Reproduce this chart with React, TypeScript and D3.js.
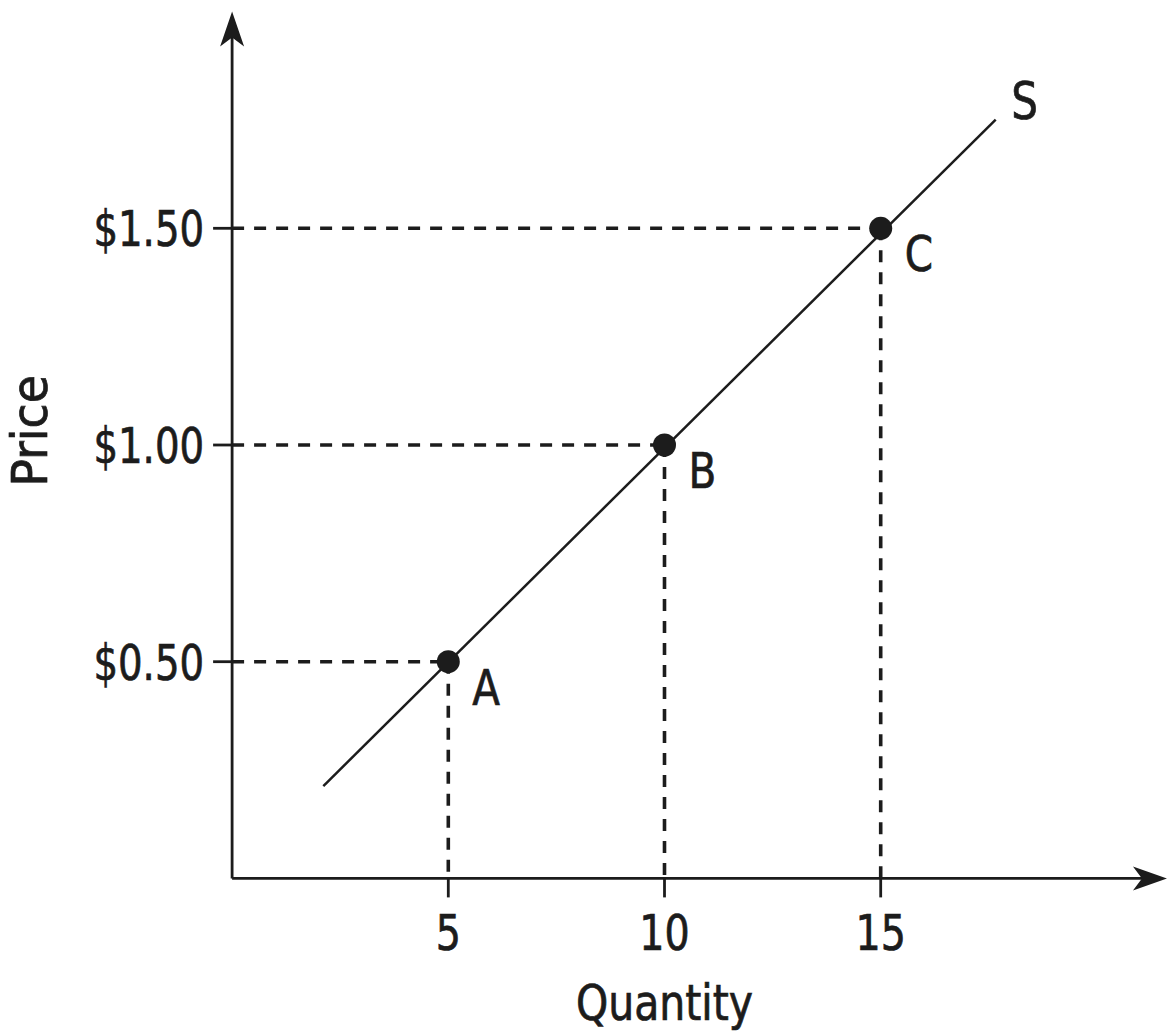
import React from "react";
import * as d3 from "d3";

const pointLabels = ["A", "B", "C"];
const quantities = [5, 10, 15];
const prices = [0.5, 1.0, 1.5];
const priceTickLabels = ["$0.50", "$1.00", "$1.50"];
const qtyTickLabels = ["5", "10", "15"];
const supplyLine = [
  { q: 2.11, p: 0.213 },
  { q: 17.66, p: 1.751 },
];
const supplyLabel = "S";
const xTitle = "Quantity";
const yTitle = "Price";

const W = 1169;
const H = 1032;
const FONT = "'Liberation Sans Narrow', 'DejaVu Sans Condensed', 'Roboto', sans-serif";
const INK = "#1c1c1c";

function T({
  x,
  y,
  sx = 1,
  rot = 0,
  anchor = "start",
  size = 48,
  children,
}: {
  x: number;
  y: number;
  sx?: number;
  rot?: number;
  anchor?: string;
  size?: number;
  children: React.ReactNode;
}) {
  return (
    <text
      transform={`translate(${x},${y}) rotate(${rot}) scale(${sx},1)`}
      textAnchor={anchor}
      fontSize={size}
      fill={INK}
      stroke={INK}
      strokeWidth={0.7}
    >
      {children}
    </text>
  );
}

export default function App() {
  const x = d3.scaleLinear().domain([0, 5]).range([232.1, 448.3]);
  const y = d3.scaleLinear().domain([0, 0.5]).range([878.4, 661.7]);
  const x0 = x(0);
  const y0 = y(0);
  const xEnd = x(21.62);
  const yEnd = y(2.0);
  const line = d3
    .line<{ q: number; p: number }>()
    .x((d) => x(d.q))
    .y((d) => y(d.p));

  return (
    <svg
      width={W}
      height={H}
      viewBox={`0 0 ${W} ${H}`}
      style={{ position: "absolute", left: 0, top: 0, background: "#fff" }}
      fontFamily={FONT}
    >
      <rect x={0} y={0} width={W} height={H} fill="#fff" />
      {/* dashed guides */}
      {quantities.map((q, i) => (
        <g key={"g" + i} stroke={INK} strokeWidth={3.6} strokeDasharray="12 10">
          <line x1={x0} y1={y(prices[i])} x2={x(q)} y2={y(prices[i])} />
          <line x1={x(q)} y1={y(prices[i])} x2={x(q)} y2={y0} />
        </g>
      ))}
      {/* axes */}
      <line x1={x0} y1={y0} x2={xEnd - 20} y2={y0} stroke={INK} strokeWidth={2.8} />
      <line x1={x0} y1={y0} x2={x0} y2={yEnd + 20} stroke={INK} strokeWidth={2.8} />
      <path
        d={`M${x0},${yEnd} L${x0 - 12},${yEnd + 35} L${x0},${yEnd + 26} L${x0 + 12},${yEnd + 35} Z`}
        fill={INK}
      />
      <path
        d={`M${xEnd},${y0} L${xEnd - 34},${y0 - 12} L${xEnd - 25},${y0} L${xEnd - 34},${y0 + 12} Z`}
        fill={INK}
      />
      {/* ticks */}
      {prices.map((p, i) => (
        <g key={"yt" + i}>
          <line x1={x0 - 19} y1={y(p)} x2={x0} y2={y(p)} stroke={INK} strokeWidth={2.8} />
          <T x={x0 - 28} y={y(p) + 18} anchor="end" sx={0.86} size={50}>
            {priceTickLabels[i]}
          </T>
        </g>
      ))}
      {quantities.map((q, i) => (
        <g key={"xt" + i}>
          <line x1={x(q)} y1={y0} x2={x(q)} y2={y0 + 19} stroke={INK} strokeWidth={2.8} />
          <T x={x(q)} y={y0 + 72} anchor="middle" sx={0.88} size={50}>
            {qtyTickLabels[i]}
          </T>
        </g>
      ))}
      {/* supply line */}
      <path d={line(supplyLine) || ""} stroke={INK} strokeWidth={2.5} fill="none" />
      <T x={x(supplyLine[1].q) + 29} y={y(supplyLine[1].p) - 1} anchor="middle" sx={0.9} size={52}>
        {supplyLabel}
      </T>
      {/* points */}
      {quantities.map((q, i) => (
        <g key={"p" + i}>
          <circle cx={x(q)} cy={y(prices[i])} r={11.5} fill={INK} />
          <T x={x(q) + 24} y={y(prices[i]) + 43} sx={0.9} size={50}>
            {pointLabels[i]}
          </T>
        </g>
      ))}
      {/* axis titles */}
      <T x={x(10)} y={1020} anchor="middle" sx={0.93} size={49}>
        {xTitle}
      </T>
      <T x={47} y={431} rot={-90} anchor="middle" sx={1.04} size={49}>
        {yTitle}
      </T>
    </svg>
  );
}
